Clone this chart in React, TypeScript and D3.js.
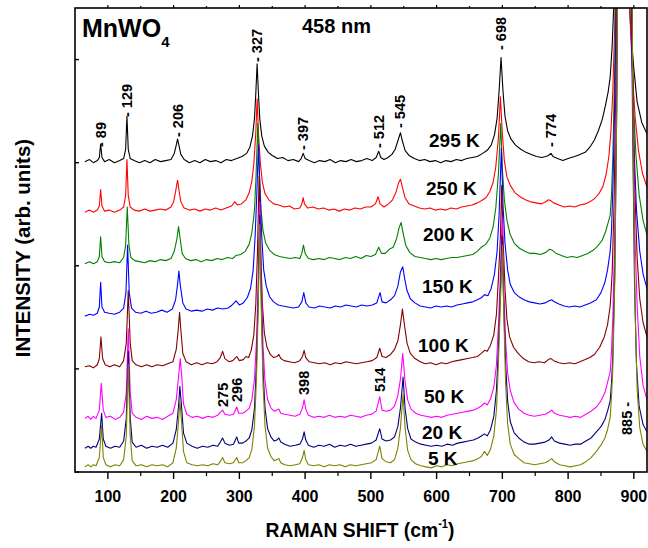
import React from 'react';
import * as d3 from 'd3';

type P = [number, number];

const temps = ['295 K', '250 K', '200 K', '150 K', '100 K', '50 K', '20 K', '5 K'];
const colors = ['#000000', '#ff0000', '#008000', '#0000ff', '#800000', '#ff00ff', '#000080', '#808000'];
const offsets = [301, 254, 204, 154, 103, 52, 24, 5];

const s295: P[] = [[65,0],[72,2],[78,-1],[84,1],[87,4],[89,17],[91,4],[95,0],[102,2],[110,-1],[118,1],[124,3],[127,12],[129,44],[131,12],[134,3],[140,1],[148,-1],[156,1],[164,-1],[172,2],[180,0],[188,1],[196,2],[201,8],[204,16],[206,22],[208,16],[211,7],[216,2],[224,-1],[232,1],[240,-1],[248,2],[256,0],[264,1],[272,-1],[280,2],[288,1],[296,3],[304,5],[311,8],[316,14],[320,25],[323,42],[325,66],[327,95],[329,66],[331,42],[334,25],[338,15],[344,9],[350,6],[358,3],[366,4],[374,1],[382,2],[390,0],[394,3],[397,8],[400,3],[406,1],[414,-1],[422,1],[430,0],[438,2],[446,-1],[454,1],[462,0],[470,2],[478,0],[486,1],[494,3],[502,1],[508,4],[512,10],[515,4],[520,2],[526,4],[532,7],[537,12],[541,20],[545,28],[548,20],[552,11],[558,6],[566,3],[574,1],[582,2],[590,0],[598,1],[606,-1],[614,1],[622,0],[630,2],[638,1],[646,3],[654,4],[662,5],[670,8],[677,11],[683,16],[688,26],[692,42],[695,68],[698,101],[701,68],[704,44],[708,30],[713,22],[720,16],[728,12],[736,9],[744,7],[752,5],[760,4],[766,5],[770,6],[774,8],[777,5],[784,3],[792,1],[800,3],[810,5],[818,7],[826,9],[833,14],[840,21],[846,30],[852,41],[857,55],[861,68],[864,82],[867,112],[870,160],[882,700],[892,170],[896,120],[900,90],[905,58],[912,38],[920,27]];

const s250: P[] = [[65,-2],[72,0],[78,-2],[84,0],[87,4],[89,20],[91,4],[95,-1],[102,0],[110,-2],[118,0],[124,3],[127,14],[129,49],[131,14],[134,3],[140,0],[148,-1],[156,1],[164,-1],[172,0],[180,1],[188,0],[196,3],[200,8],[203,18],[206,29],[208,20],[211,8],[216,2],[224,0],[232,1],[240,-1],[248,1],[256,0],[264,2],[272,0],[280,2],[288,4],[293,8],[297,5],[303,6],[310,10],[315,17],[319,28],[322,45],[325,75],[327,108],[329,75],[332,45],[335,27],[339,16],[345,10],[352,6],[360,5],[368,3],[376,4],[384,1],[392,2],[395,6],[397,12],[399,6],[404,2],[412,3],[420,1],[428,2],[436,0],[444,1],[452,-1],[460,1],[468,0],[476,2],[484,1],[492,3],[500,3],[507,6],[511,13],[514,6],[520,3],[527,6],[533,10],[538,17],[542,26],[545,30],[548,22],[552,12],[558,6],[566,4],[574,2],[582,1],[590,2],[598,0],[606,1],[614,0],[622,2],[630,1],[638,3],[646,4],[654,5],[662,7],[668,9],[675,12],[681,18],[686,27],[690,42],[694,70],[697,110],[700,74],[703,48],[707,32],[712,24],[719,17],[727,13],[735,10],[743,8],[751,7],[759,6],[766,8],[770,10],[774,9],[778,7],[786,5],[794,3],[802,4],[810,3],[818,5],[826,6],[833,8],[840,11],[847,16],[853,23],[858,35],[862,52],[865,75],[868,115],[871,180],[884,800],[894,190],[898,130],[902,90],[907,58],[913,36],[920,22]];

const s200: P[] = [[65,-2],[72,0],[78,-2],[84,0],[87,5],[89,24],[91,5],[95,0],[102,-1],[110,0],[118,-1],[124,4],[127,16],[129.5,53],[132,16],[135,4],[141,1],[148,0],[156,-1],[164,1],[172,0],[180,2],[188,1],[196,3],[201,10],[205,22],[207.5,34],[210,22],[213,8],[218,3],[226,1],[234,2],[242,0],[250,2],[258,1],[266,3],[274,2],[282,4],[290,3],[295,6],[302,7],[309,10],[315,17],[319,28],[323,50],[325.5,85],[328,134],[330.5,85],[333,50],[336,30],[340,18],[346,11],[353,7],[361,5],[369,4],[377,3],[385,4],[392,3],[395,8],[397.5,16],[400,8],[405,3],[413,2],[421,3],[429,2],[437,4],[445,3],[453,2],[461,4],[469,3],[477,5],[485,3],[493,6],[500,5],[507,7],[512,14],[516,8],[522,8],[528,12],[534,14],[539,22],[543,33],[546,38],[549,28],[553,16],[559,9],[567,5],[575,4],[583,3],[591,2],[599,3],[607,2],[615,3],[623,4],[631,4],[639,5],[647,6],[655,7],[662,10],[668,14],[675,17],[681,23],[686,34],[690,52],[694,85],[697.5,134],[700,90],[703,60],[707,40],[712,26],[718,18],[726,13],[734,10],[742,8],[750,8],[758,7],[766,9],[772,12],[776,11],[782,8],[790,6],[798,4],[806,5],[814,4],[822,6],[830,8],[838,11],[845,15],[852,21],[857,29],[861,38],[864,45],[866,65],[868,100],[871,190],[885,900],[896,240],[899,160],[903,105],[908,65],[914,40],[920,26]];

const s150: P[] = [[65,-3],[72,-1],[78,-2],[84,0],[87,6],[89,30],[91,6],[95,1],[102,0],[110,-1],[118,1],[124,5],[127.5,20],[130,66],[132.5,20],[136,5],[142,1],[150,0],[158,2],[166,0],[174,1],[182,3],[190,1],[198,4],[203,13],[206,28],[208,41],[210,28],[214,10],[219,4],[227,2],[235,3],[243,2],[251,4],[259,3],[267,5],[275,4],[283,5],[289,8],[295,12],[300,8],[306,10],[312,15],[317,24],[321,42],[324,75],[326.5,115],[329,163],[331.5,115],[334,75],[337,42],[341,26],[346,16],[352,11],[359,8],[366,7],[374,6],[382,5],[390,6],[395,11],[398,20],[401,10],[406,6],[414,5],[422,7],[430,6],[438,5],[446,7],[454,6],[462,8],[470,7],[478,6],[486,8],[494,7],[502,8],[509,10],[514,20],[517,11],[523,10],[530,13],[536,17],[541,26],[545,40],[548.5,45],[551,35],[555,22],[560,14],[567,10],[575,7],[583,6],[591,5],[599,7],[607,6],[615,7],[623,6],[631,8],[639,9],[647,10],[655,11],[662,13],[668,15],[673,18],[678,17],[683,24],[688,38],[692,60],[695,95],[698.5,160],[701,105],[704,68],[708,42],[712,28],[718,20],[725,16],[733,13],[741,11],[749,10],[757,9],[765,10],[771,12],[775,13],[779,11],[786,9],[794,7],[802,6],[810,7],[818,6],[826,8],[834,10],[843,13],[850,20],[856,30],[860,42],[864,60],[866,80],[868,120],[870,175],[873,290],[885,1000],[897,270],[900,165],[904,100],[909,60],[914,38],[920,24]];

const s100: P[] = [[65,-1],[72,0],[78,-2],[84,1],[87,7],[89.5,28],[92,7],[96,1],[103,-1],[110,1],[118,-1],[124,5],[128,22],[131,73],[134,22],[137,5],[143,1],[151,-1],[159,1],[167,-1],[175,1],[183,0],[191,2],[199,4],[204,16],[207,35],[209,52],[211,35],[214,12],[219,4],[227,1],[235,3],[243,1],[251,3],[259,2],[266,4],[271,8],[274.5,14],[278,7],[284,4],[290,5],[296,9],[300,5],[306,6],[310,9],[314,8],[318,15],[322,30],[325,60],[327.5,110],[330,184],[332.5,110],[335,60],[338,32],[342,18],[347,11],[352,8],[357,9],[360,11],[363,7],[368,5],[376,4],[384,3],[392,5],[396,9],[398.5,15],[401,8],[406,4],[414,3],[422,2],[430,3],[438,1],[446,3],[454,2],[462,4],[470,3],[478,2],[486,3],[494,4],[502,5],[509,8],[513.5,17],[517,9],[523,8],[530,11],[536,16],[541,24],[545,40],[548,55],[551,40],[555,22],[560,12],[567,7],[575,4],[583,2],[591,3],[599,1],[607,3],[615,2],[623,4],[631,5],[639,6],[647,7],[655,8],[662,9],[668,12],[673,15],[677,14],[682,20],[687,30],[691,50],[694,85],[697,125],[699,175],[701,125],[704,75],[707,45],[711,28],[717,18],[724,12],[732,7],[740,4],[748,3],[756,4],[764,3],[770,6],[774,7],[778,5],[786,3],[794,2],[802,3],[810,2],[818,4],[826,6],[833,8],[840,11],[848,18],[855,28],[860,40],[864,58],[867,90],[870,160],[873,290],[885,1100],[898,300],[901,180],[905,105],[909,65],[914,42],[920,28]];

const s50: P[] = [[65,0],[70,2],[74,-1],[78,2],[82,0],[87,8],[90,34],[93,8],[97,1],[104,2],[111,-1],[118,1],[124,6],[128,25],[131,87],[134,25],[137,5],[143,1],[151,-1],[159,2],[167,0],[175,1],[183,-1],[191,2],[199,5],[204,18],[207.5,40],[210,58],[212.5,40],[215,14],[220,4],[228,1],[236,2],[244,0],[252,2],[260,1],[267,3],[271,6],[274.5,8],[278,4],[285,3],[291,4],[296,11],[299,5],[305,5],[310,7],[315,10],[319,18],[323,38],[326,75],[328.5,130],[331,210],[333.5,130],[336,70],[339,36],[343,18],[348,10],[353,7],[357,8],[360,9],[363,5],[369,4],[377,3],[385,2],[392,4],[396,10],[398.5,18],[401,9],[405,3],[413,1],[421,2],[429,1],[437,3],[445,1],[453,2],[461,1],[469,3],[477,2],[485,1],[493,3],[501,4],[508,7],[513.5,21],[517,8],[523,7],[530,8],[536,12],[541,22],[545,38],[548.5,63],[552,36],[556,18],[561,9],[568,5],[576,3],[584,2],[592,1],[600,2],[608,1],[616,3],[624,4],[632,5],[640,6],[648,7],[656,8],[663,10],[668,12],[673,15],[677,13],[682,19],[687,30],[691,52],[694,90],[697,140],[699.5,195],[702,130],[705,75],[708,44],[712,27],[718,15],[725,9],[733,5],[741,3],[749,2],[757,3],[765,4],[771,6],[775,8],[779,5],[787,3],[795,2],[803,1],[811,2],[819,1],[827,4],[835,7],[843,11],[850,17],[856,25],[860,35],[864,45],[866,65],[868,98],[871,180],[874,330],[885,1300],[898,320],[901,190],[905,110],[909,60],[914,32],[920,18]];

const s20: P[] = [[65,-1],[70,1],[74,-1],[78,1],[82,0],[87,8],[90.5,33],[93,8],[97,1],[104,-1],[111,1],[118,0],[124,6],[128,28],[131,93],[134,28],[137,5],[143,0],[151,2],[159,-1],[167,1],[175,0],[183,2],[191,0],[199,4],[204,17],[207.5,40],[209.5,59],[212,40],[215,14],[220,4],[228,1],[236,-1],[244,1],[252,0],[260,2],[267,1],[271,5],[274.5,9],[278,4],[285,2],[291,3],[296,10],[299,4],[305,4],[310,6],[315,9],[319,17],[323,38],[326,80],[328.5,140],[331,225],[333.5,140],[336,75],[339,38],[343,18],[348,10],[353,6],[357,7],[360,9],[363,5],[369,3],[377,1],[385,2],[392,3],[396,8],[398.5,15],[401,7],[405,2],[413,0],[421,2],[429,1],[437,3],[445,0],[453,2],[461,1],[469,3],[477,1],[485,2],[493,3],[501,4],[508,7],[513.5,18],[517,8],[523,6],[530,7],[536,10],[541,20],[545,38],[549,68],[552,38],[556,18],[561,8],[568,5],[576,3],[584,2],[592,1],[600,2],[608,1],[616,3],[624,2],[632,4],[640,5],[648,6],[656,7],[663,9],[668,11],[673,13],[677,11],[682,17],[687,30],[691,55],[694,95],[697,150],[699.5,205],[702,140],[705,80],[708,45],[712,25],[718,14],[725,9],[733,5],[741,3],[749,3],[757,4],[765,5],[771,7],[775,10],[779,6],[787,4],[795,3],[803,2],[811,3],[819,3],[827,6],[835,9],[843,15],[850,20],[856,27],[860,35],[864,45],[866,62],[868,88],[871,170],[874,330],[885,1400],[898,320],[901,160],[904,80],[908,40],[914,22],[920,15]];

const s5: P[] = [[65,0],[70,2],[74,0],[78,2],[82,1],[87,9],[90.5,40],[93,9],[97,2],[104,0],[111,2],[118,1],[124,7],[128,30],[131,100],[134,30],[137,6],[143,1],[151,2],[159,0],[167,2],[175,1],[183,2],[191,0],[199,4],[204,18],[207.5,44],[209.5,64],[212,44],[215,15],[220,4],[228,2],[236,1],[244,2],[252,1],[260,3],[267,2],[271,5],[274.5,9],[278,4],[285,3],[291,4],[296,9],[299,4],[305,4],[310,6],[315,9],[319,17],[323,40],[326,85],[328.5,150],[331,235],[333.5,150],[336,80],[339,40],[343,18],[348,10],[353,6],[357,7],[360,8],[363,4],[369,2],[377,1],[385,2],[392,3],[396,9],[398.5,16],[401,7],[405,2],[413,1],[421,2],[429,0],[437,2],[445,1],[453,2],[461,0],[469,2],[477,1],[485,2],[493,3],[501,4],[508,7],[513.5,20],[517,8],[523,5],[530,4],[536,7],[541,18],[545,38],[549,70],[552,38],[556,16],[561,7],[568,3],[576,1],[584,0],[592,-1],[600,1],[608,0],[616,2],[624,1],[632,3],[640,4],[648,5],[656,6],[663,8],[668,10],[673,15],[677,11],[682,17],[687,30],[691,55],[694,100],[697,160],[700,215],[702.5,140],[705,80],[708,42],[712,22],[718,12],[725,8],[733,4],[741,3],[749,2],[757,3],[765,4],[771,6],[775,8],[779,5],[787,2],[795,1],[803,0],[811,1],[819,2],[827,5],[835,9],[843,15],[850,21],[856,28],[860,36],[864,48],[866,68],[868,95],[871,180],[874,350],[886,1500],[899,300],[902,150],[905,75],[909,38],[914,22],[920,15]];

const spectra: P[][] = [s295, s250, s200, s150, s100, s50, s20, s5];

const xMajor = [100, 200, 300, 400, 500, 600, 700, 800, 900];
const xMinor = [150, 250, 350, 450, 550, 650, 750, 850];
const yTicks = [0, 100, 200, 300, 400];

const peaksTop = ['89', '129', '206', '327', '397', '512', '545', '698', '774'];
const peaksLow = ['275', '296', '398', '514'];
const peakStrong = '885';

// layout (pixels)
const M = { left: 75, right: 647, top: 8, bottom: 472 };
const topLabelBottom = [147, 117, 137, 62, 150, 148, 128, 50, 147];
const lowLabelBottom = [407, 402, 395, 392];
const tempLabelX = [429, 426, 423, 422, 418, 424, 422, 428];
const tempLabelY = [147, 195, 241, 293, 352, 403, 439, 465];

const FONT = "'Liberation Sans', Arial, Helvetica, sans-serif";

export default function App() {
  const x = d3.scaleLinear().domain([50, 920]).range([M.left, M.right]);
  const y = d3.scaleLinear().domain([0, 450]).range([M.bottom, M.top]);

  const paths = spectra.map((s, i) =>
    d3.line<P>().x(d => x(d[0])).y(d => y(d[1] + offsets[i]))(s) || ''
  );

  const peakLabel = (txt: string, cx: number, bottom: number, key: string) => (
    <text key={key} transform={`translate(${cx + 5},${bottom}) rotate(-90)`} fontSize={14.5}
      fontWeight="bold" fontFamily={FONT} fill="#000">{txt}</text>
  );

  return (
    <svg width={648} height={548} style={{ position: 'absolute', left: 0, top: 0, background: '#fff' }}>
      <defs>
        <clipPath id="plotclip">
          <rect x={M.left} y={M.top} width={M.right - M.left} height={M.bottom - M.top} />
        </clipPath>
      </defs>
      <rect x={0} y={0} width={648} height={548} fill="#fff" />
      <g clipPath="url(#plotclip)">
        {paths.map((p, i) => (
          <path key={i} d={p} fill="none" stroke={colors[i]} strokeWidth={1.1} strokeLinejoin="round" />
        ))}
      </g>
      <rect x={M.left} y={M.top} width={M.right - M.left} height={M.bottom - M.top}
        fill="none" stroke="#000" strokeWidth={1.6} />
      {xMajor.map(v => (
        <g key={'M' + v}>
          <line x1={x(v)} x2={x(v)} y1={M.bottom} y2={M.bottom + 7} stroke="#000" strokeWidth={1.4} />
          <line x1={x(v)} x2={x(v)} y1={M.top} y2={M.top - 3} stroke="#000" strokeWidth={1.2} />
          <text x={x(v)} y={502} textAnchor="middle" fontSize={16} fontWeight="bold" fontFamily={FONT}>{v}</text>
        </g>
      ))}
      {xMinor.map(v => (
        <g key={'m' + v}>
          <line x1={x(v)} x2={x(v)} y1={M.bottom} y2={M.bottom + 4} stroke="#000" strokeWidth={1.2} />
          <line x1={x(v)} x2={x(v)} y1={M.top} y2={M.top - 2} stroke="#000" strokeWidth={1.2} />
        </g>
      ))}
      {yTicks.map(v => (
        <line key={'y' + v} x1={M.left} x2={M.left + 4} y1={y(v)} y2={y(v)} stroke="#000" strokeWidth={1.4} />
      ))}

      <text x={82} y={37} fontSize={25} fontWeight="bold" fontFamily={FONT}>MnWO<tspan fontSize={15} dy={10}>4</tspan></text>
      <text x={302} y={33} fontSize={20} fontWeight="bold" fontFamily={FONT}>458 nm</text>

      {peaksTop.map((p, i) => peakLabel('- ' + p, x(+p), topLabelBottom[i], 't' + p))}
      {peaksLow.map((p, i) => peakLabel(p, x(+p), lowLabelBottom[i], 'l' + p))}
      {peakLabel(peakStrong + ' -', x(+peakStrong) + 3, 435, 's')}

      {temps.map((t, i) => (
        <text key={t} x={tempLabelX[i]} y={tempLabelY[i]} fontSize={19} fontWeight="bold" fontFamily={FONT}>{t}</text>
      ))}

      <g transform="translate(360,537) scale(0.92,1)">
        <text x={0} y={0} textAnchor="middle" fontSize={21} fontWeight="bold" fontFamily={FONT}>
          RAMAN SHIFT (cm<tspan fontSize={12} dy={-9}>-1</tspan><tspan dy={9}>)</tspan>
        </text>
      </g>
      <text transform="translate(30,248) rotate(-90)" textAnchor="middle" fontSize={20.5} fontWeight="bold"
        fontFamily={FONT}>INTENSITY (arb. units)</text>
    </svg>
  );
}
